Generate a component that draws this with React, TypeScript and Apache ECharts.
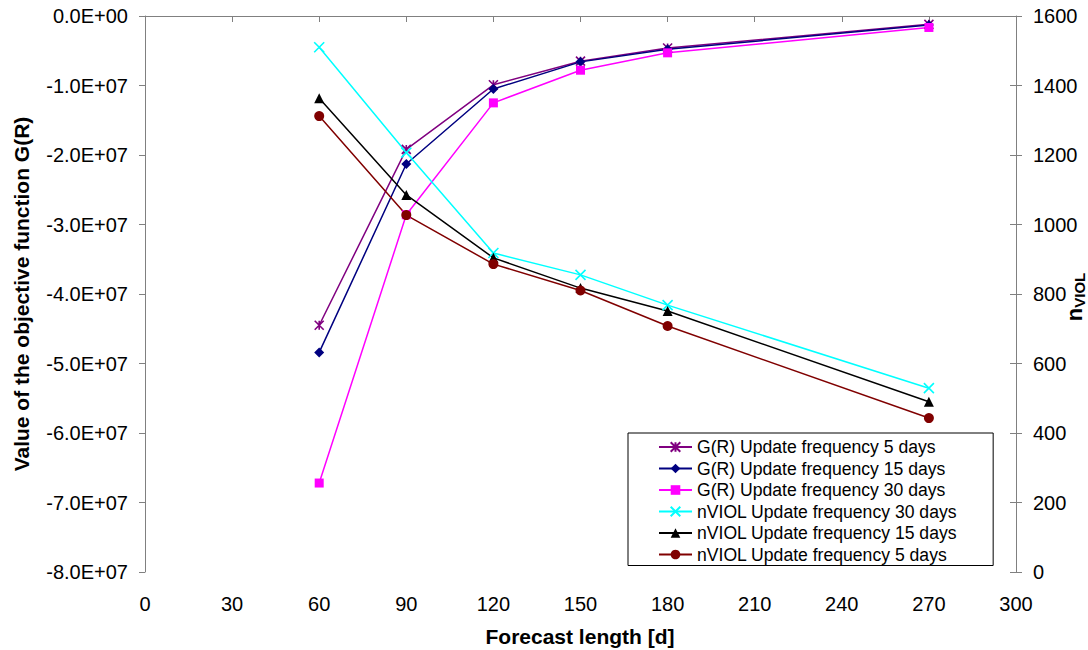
import React, { useEffect, useRef } from "react";
import * as echarts from "echarts";

const forecastLength = [60, 90, 120, 150, 180, 270];
const gUpdate5 = [-4.45e7, -1.92e7, -0.99e7, -0.65e7, -0.46e7, -0.12e7];
const gUpdate15 = [-4.84e7, -2.13e7, -1.05e7, -0.66e7, -0.48e7, -0.13e7];
const gUpdate30 = [-6.72e7, -2.86e7, -1.25e7, -0.78e7, -0.53e7, -0.165e7];
const nUpdate30 = [1510, 1207, 918, 855, 768, 529];
const nUpdate15 = [1363, 1085, 904, 817, 751, 490];
const nUpdate5 = [1312, 1027, 886, 810, 708, 443];

const seriesNames = [
  "G(R) Update frequency 5 days",
  "G(R) Update frequency 15 days",
  "G(R) Update frequency 30 days",
  "nVIOL Update frequency 30 days",
  "nVIOL Update frequency 15 days",
  "nVIOL Update frequency 5 days",
];

const FONT = "'Liberation Sans', Arial, sans-serif";
const AXIS_GRAY = "#808080";

const fmtE = (v: number) => {
  if (v === 0) return "0.0E+00";
  const s = v.toExponential(1);
  const [m, e] = s.split("e");
  const ei = parseInt(e, 10);
  const sign = ei < 0 ? "-" : "+";
  return m + "E" + sign + String(Math.abs(ei)).padStart(2, "0");
};

const pairs = (ys: number[]) => forecastLength.map((x, i) => [x, ys[i]]);

const ASTERISK = "path://M0,0L10,10M10,0L0,10M5,0L5,10";
const CROSS = "path://M0,0L10,10M10,0L0,10";

export default function App() {
  const ref = useRef<HTMLDivElement>(null);
  useEffect(() => {
    if (!ref.current) return;
    const chart = echarts.init(ref.current, null, { renderer: "svg" });
    const mk = (
      name: string,
      data: number[],
      color: string,
      symbol: string,
      size: number,
      yAxisIndex: number,
      stroked = false
    ) => ({
      name,
      type: "line",
      yAxisIndex,
      data: pairs(data),
      symbol,
      symbolSize: size,
      showAllSymbol: true,
      lineStyle: { color, width: 1.5 },
      itemStyle: stroked
        ? { color, borderColor: color, borderWidth: 1.6 }
        : { color, borderWidth: 0 },
      emphasis: { disabled: true },
    });
    chart.setOption({
      animation: false,
      textStyle: { fontFamily: FONT },
      grid: { left: 145, top: 16, right: 72, bottom: 78, outerBoundsMode: "none" },
      legend: {
        orient: "vertical",
        left: 628,
        top: 433,
        padding: [5, 36, 2, 30],
        itemWidth: 33,
        itemHeight: 12,
        itemGap: 3.5,
        backgroundColor: "#ffffff",
        borderColor: "#000000",
        borderWidth: 1,
        textStyle: { fontSize: 17.6, lineHeight: 17.6, color: "#000", fontFamily: FONT },
        data: seriesNames,
      },
      xAxis: {
        type: "value",
        min: 0,
        max: 300,
        interval: 30,
        axisLine: { lineStyle: { color: AXIS_GRAY, width: 1 } },
        axisTick: { length: 6, lineStyle: { color: AXIS_GRAY } },
        axisLabel: { color: "#000", fontSize: 20, margin: 22, fontFamily: FONT },
        splitLine: { show: false },
      },
      yAxis: [
        {
          type: "value",
          position: "left",
          min: -8e7,
          max: 0,
          interval: 1e7,
          axisLine: { show: true, lineStyle: { color: AXIS_GRAY, width: 1 } },
          axisTick: { show: true, length: 6, lineStyle: { color: AXIS_GRAY } },
          axisLabel: { color: "#000", fontSize: 20, margin: 17, formatter: fmtE, fontFamily: FONT },
          splitLine: { show: false },
        },
        {
          type: "value",
          position: "right",
          min: 0,
          max: 1600,
          interval: 200,
          axisLine: { show: true, lineStyle: { color: AXIS_GRAY, width: 1 } },
          axisTick: { show: true, length: 6, lineStyle: { color: AXIS_GRAY } },
          axisLabel: {
            color: "#000",
            fontSize: 20,
            margin: 17,
            fontFamily: FONT,
            formatter: (v: number) => String(v),
          },
          splitLine: { show: false },
        },
        {
          type: "value",
          position: "right",
          min: 0,
          max: 1600,
          interval: 200,
          axisLine: { show: false },
          axisTick: { show: true, inside: true, length: 6, lineStyle: { color: AXIS_GRAY } },
          axisLabel: { show: false },
          splitLine: { show: false },
        },
      ],
      graphic: [
        {
          type: "text",
          x: 21,
          y: 294,
          rotation: Math.PI / 2,
          style: {
            text: "Value of the objective function G(R)",
            fontSize: 21,
            fontWeight: "bold",
            fontFamily: FONT,
            fill: "#000",
            align: "center",
            verticalAlign: "middle",
          },
        },
        {
          type: "text",
          x: 580,
          y: 636,
          style: {
            text: "Forecast length [d]",
            fontSize: 21,
            fontWeight: "bold",
            fontFamily: FONT,
            fill: "#000",
            align: "center",
            verticalAlign: "middle",
          },
        },
        {
          type: "text",
          x: 1074,
          y: 297,
          rotation: Math.PI / 2,
          style: {
            text: "{n|n}{s|VIOL}",
            fontFamily: FONT,
            fill: "#000",
            align: "center",
            verticalAlign: "middle",
            rich: {
              n: { fontSize: 22, fontWeight: "bold", fontFamily: FONT, lineHeight: 22 },
              s: {
                fontSize: 15,
                fontWeight: "bold",
                fontFamily: FONT,
                lineHeight: 22,
                padding: [10, 0, 0, 0],
              },
            },
          },
        },
      ],
      series: [
        mk(seriesNames[0], gUpdate5, "#800080", ASTERISK, 9, 0, true),
        mk(seriesNames[1], gUpdate15, "#000080", "diamond", 10, 0),
        mk(seriesNames[2], gUpdate30, "#FF00FF", "rect", 9, 0),
        mk(seriesNames[3], nUpdate30, "#00FFFF", CROSS, 10, 1, true),
        mk(seriesNames[4], nUpdate15, "#000000", "triangle", 10, 1),
        mk(seriesNames[5], nUpdate5, "#800000", "circle", 10, 1),
      ],
    });
    return () => chart.dispose();
  }, []);
  return (
    <div
      ref={ref}
      style={{ position: "fixed", left: 0, top: 0, width: 1088, height: 650, background: "#fff" }}
    />
  );
}
